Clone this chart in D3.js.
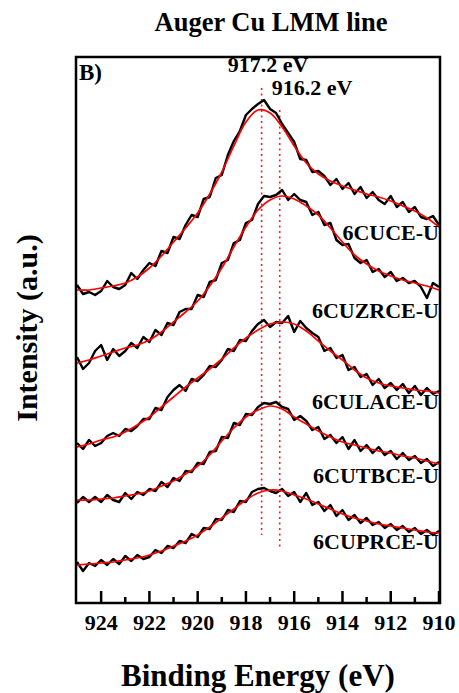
<!DOCTYPE html>
<html>
<head>
<meta charset="utf-8">
<script src="https://cdn.jsdelivr.net/npm/d3@7"></script>
<style>
  html, body { margin: 0; padding: 0; background: #fff; }
  svg text { font-family: "Liberation Serif", "Times New Roman", serif; font-weight: bold; fill: #000; }
</style>
</head>
<body>
<div id="chart"></div>
<script>
// Energy grids (eV): raw spectra every 0.25 eV, fitted envelope every 0.5 eV
const rawEnergy = d3.range(0, 61).map(i => 925 - i * 0.25);
const fitEnergy = d3.range(0, 31).map(i => 925 - i * 0.5);

const sampleNames = ["6CUCE-U", "6CUZRCE-U", "6CULACE-U", "6CUTBCE-U", "6CUPRCE-U"];

// measured (offset) intensities, a.u.
const rawCUCE = [318,309,311,308,312,322,316,314,318,330,324,333,340,337,352,350,366,364,378,388,386,404,406,425,428,448,462,472,488,494,499,503,494,490,479,470,461,444,443,431,432,427,418,424,414,420,409,416,405,411,403,399,407,396,401,391,396,386,384,387,378];
const rawCUZRCE = [246,234,240,252,258,243,254,247,252,260,255,266,261,273,268,280,278,291,294,294,308,306,321,323,340,343,360,363,380,383,399,407,406,408,413,403,409,403,401,388,391,378,380,363,358,359,345,340,343,331,334,326,331,322,325,320,322,316,305,320,316];
const rawCULACE = [160,154,163,157,160,167,170,167,174,172,177,184,184,195,193,206,213,218,212,224,222,228,237,236,243,254,252,263,262,272,279,283,276,281,280,287,271,282,275,270,266,252,255,245,248,233,236,226,229,218,224,215,220,213,219,210,217,208,215,209,212];
const rawCUTBCE = [100,106,101,106,101,108,103,101,110,104,111,108,114,112,121,116,125,122,132,131,140,139,151,152,166,165,180,178,189,188,196,200,199,201,196,194,183,187,182,173,176,164,168,160,166,154,163,152,158,150,156,148,152,144,150,143,147,140,144,137,141];
const rawCUPRCE = [41,32,40,37,43,38,44,39,47,42,48,44,46,53,50,57,55,62,60,69,66,75,74,84,83,93,91,102,101,111,114,115,112,110,114,107,111,101,110,98,101,92,98,87,93,83,88,80,85,78,81,75,79,73,77,71,75,69,73,68,72];

// fitted envelopes, a.u.
const fitCUCE = [313,313,315,317,320,326,335,347,361,375,390,409,431,457,481,493,490,476,457,440,429,422,417,413,409,406,402,397,392,385,376];
const fitCUZRCE = [240,243,247,251,255,258,263,271,281,291,302,317,335,356,376,393,403,407,404,397,388,375,361,348,339,332,327,323,320,317,313];
const fitCULACE = [156,159,163,166,171,178,186,196,206,216,225,234,244,255,265,273,279,281,279,272,262,252,243,233,225,220,217,215,213,212,210];
const fitCUTBCE = [103,103,104,105,107,109,112,117,122,129,137,148,162,175,186,193,197,194,186,179,172,166,161,158,155,152,150,147,145,142,139];
const fitCUPRCE = [38,39,40,41,43,45,48,52,57,62,68,76,85,94,103,110,113,112,108,104,99,94,89,85,82,79,77,75,73,71,70];

const rawSeries = [rawCUCE, rawCUZRCE, rawCULACE, rawCUTBCE, rawCUPRCE];
const fitSeries = [fitCUCE, fitCUZRCE, fitCULACE, fitCUTBCE, fitCUPRCE];

// label baselines given in a.u. (same scale as the spectra)
const labelLevels = [363, 285, 194, 120, 54];

const majorTicks = [924, 922, 920, 918, 916, 914, 912, 910];
const minorTicks = [923, 921, 919, 917, 915, 913, 911];

const peakLines = [
    { e: 917.35, text: "917.2 eV", top: 515, bottom: 68, lx: 268, ly: 72 },
    { e: 916.6, text: "916.2 eV", top: 493, bottom: 55, lx: 312, ly: 95 }
];

const W = 459, H = 693;
const frame = { left: 76, right: 440, top: 57, bottom: 603 };

const svg = d3.select("#chart").append("svg")
    .attr("width", W)
    .attr("height", H);

const x = d3.scaleLinear()
    .domain([925, 910])
    .range([77, 439]);

const y = d3.scaleLinear()
    .domain([0, 546])
    .range([frame.bottom, frame.top]);

svg.append("defs").append("clipPath")
    .attr("id", "plot-clip")
    .append("rect")
    .attr("x", frame.left)
    .attr("y", frame.top)
    .attr("width", frame.right - frame.left)
    .attr("height", frame.bottom - frame.top);

const plot = svg.append("g").attr("clip-path", "url(#plot-clip)");

// dotted guide lines for peak positions
plot.selectAll(".peak")
    .data(peakLines)
    .enter()
    .append("line")
    .attr("x1", d => x(d.e))
    .attr("x2", d => x(d.e))
    .attr("y1", d => y(d.top))
    .attr("y2", d => y(d.bottom))
    .style("stroke", "#e8262b")
    .style("stroke-width", 1.6)
    .style("stroke-dasharray", "2,3.5");

const rawLine = d3.line()
    .x((d, i) => x(rawEnergy[i]))
    .y(d => y(d));

const fitLine = d3.line()
    .x((d, i) => x(fitEnergy[i]))
    .y(d => y(d))
    .curve(d3.curveCatmullRom);

rawSeries.forEach(s => {
    plot.append("path")
        .attr("d", rawLine(s))
        .style("fill", "none")
        .style("stroke", "#000")
        .style("stroke-width", 2.4)
        .style("stroke-linejoin", "round");
});

fitSeries.forEach(s => {
    plot.append("path")
        .attr("d", fitLine(s))
        .style("fill", "none")
        .style("stroke", "#ff0000")
        .style("stroke-width", 1.7);
});

// sample labels
svg.selectAll(".sample")
    .data(sampleNames)
    .enter()
    .append("text")
    .attr("x", 439)
    .attr("y", (d, i) => y(labelLevels[i]))
    .attr("text-anchor", "end")
    .style("font-size", "22px")
    .text(d => d);

// peak labels
svg.selectAll(".peak-label")
    .data(peakLines)
    .enter()
    .append("text")
    .attr("x", d => d.lx)
    .attr("y", d => d.ly)
    .attr("text-anchor", "middle")
    .style("font-size", "22px")
    .text(d => d.text);

// frame
svg.append("rect")
    .attr("x", frame.left)
    .attr("y", frame.top)
    .attr("width", frame.right - frame.left)
    .attr("height", frame.bottom - frame.top)
    .style("fill", "none")
    .style("stroke", "#000")
    .style("stroke-width", 2.5);

// inward ticks on the bottom axis
svg.append("g")
    .selectAll("line")
    .data(majorTicks)
    .enter()
    .append("line")
    .attr("x1", d => x(d))
    .attr("x2", d => x(d))
    .attr("y1", frame.bottom)
    .attr("y2", frame.bottom - 12)
    .style("stroke", "#000")
    .style("stroke-width", 2.5);

svg.append("g")
    .selectAll("line")
    .data(minorTicks)
    .enter()
    .append("line")
    .attr("x1", d => x(d))
    .attr("x2", d => x(d))
    .attr("y1", frame.bottom)
    .attr("y2", frame.bottom - 6)
    .style("stroke", "#000")
    .style("stroke-width", 2.5);

svg.append("g")
    .selectAll("text")
    .data(majorTicks)
    .enter()
    .append("text")
    .attr("x", d => x(d))
    .attr("y", 630)
    .attr("text-anchor", "middle")
    .style("font-size", "22px")
    .text(d => d);

// panel tag and titles
svg.append("text")
    .attr("x", 79)
    .attr("y", 80)
    .style("font-size", "23px")
    .text("B)");

svg.append("text")
    .attr("x", 271)
    .attr("y", 31)
    .attr("text-anchor", "middle")
    .style("font-size", "26.5px")
    .text("Auger Cu LMM line");

svg.append("text")
    .attr("x", 258)
    .attr("y", 686)
    .attr("text-anchor", "middle")
    .style("font-size", "31px")
    .text("Binding Energy (eV)");

svg.append("text")
    .attr("transform", "translate(37,328) rotate(-90)")
    .attr("text-anchor", "middle")
    .style("font-size", "30px")
    .text("Intensity (a.u.)");
</script>
</body>
</html>
